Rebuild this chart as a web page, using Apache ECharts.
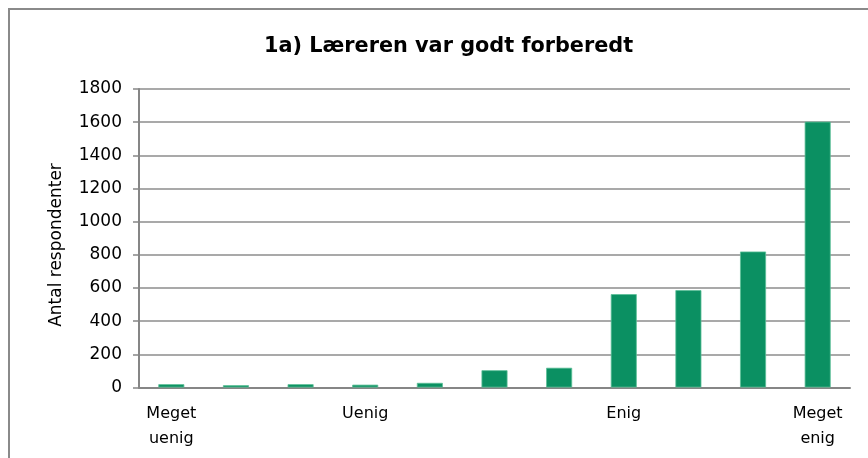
<!DOCTYPE html>
<html>
<head>
<meta charset="utf-8">
<script src="https://cdn.jsdelivr.net/npm/echarts@6/dist/echarts.min.js"></script>
<style>
  html, body { margin: 0; padding: 0; background: #fff; }
  #chart { width: 868px; height: 458px; }
</style>
</head>
<body>
<div id="chart"></div>
<script>
// Response scale positions 1..11 and the number of respondents at each
const categories = ['1', '2', '3', '4', '5', '6', '7', '8', '9', '10', '11'];
const respondents = [20, 14, 20, 17, 28, 104, 119, 563, 587, 820, 1603];
// Anchor labels shown under the scale
const scaleLabels = ['Meget\nuenig', '', '', 'Uenig', '', '', '', 'Enig', '', '', 'Meget\nenig'];
const yTicks = [0, 200, 400, 600, 800, 1000, 1200, 1400, 1600, 1800];

const chart = echarts.init(document.getElementById('chart'), null, { renderer: 'canvas' });
const font = 'DejaVu Sans, Verdana, sans-serif';

chart.setOption({
  animation: false,
  backgroundColor: '#ffffff',
  textStyle: { fontFamily: font },
  title: {
    text: '1a) Læreren var godt forberedt',
    left: 259,
    top: 31,
    textStyle: { fontFamily: font, fontSize: 20.8, fontWeight: 'bold', color: '#000' }
  },
  graphic: [{
    type: 'rect',
    shape: { x: 9, y: 9, width: 900, height: 500 },
    style: { fill: 'none', stroke: '#8a8a8a', lineWidth: 2 },
    silent: true
  }, {
    // y-axis title, sitting slightly below the plot's vertical centre
    type: 'text',
    x: 57,
    y: 245,
    rotation: Math.PI / 2,
    style: {
      text: 'Antal respondenter',
      font: '17px ' + font,
      fill: '#000',
      textAlign: 'center',
      textVerticalAlign: 'middle'
    },
    silent: true
  }],
  grid: { left: 139, right: 18, top: 89, bottom: 70.5, containLabel: false },
  xAxis: {
    type: 'category',
    data: categories,
    axisLine: { lineStyle: { color: '#868686', width: 2 } },
    axisTick: { show: false },
    axisLabel: {
      interval: 0,
      margin: 14,
      color: '#000',
      fontFamily: font,
      fontSize: 16,
      lineHeight: 25,
      formatter: (v, i) => scaleLabels[i]
    }
  },
  yAxis: {
    type: 'value',
    min: yTicks[0],
    max: yTicks[yTicks.length - 1],
    interval: 200,
    axisLine: { show: true, lineStyle: { color: '#868686', width: 2 } },
    axisTick: { show: true, length: 6, lineStyle: { color: '#868686', width: 1.5 } },
    axisLabel: {
      color: '#000', fontFamily: font, fontSize: 17, margin: 17,
      formatter: v => String(v)
    },
    splitLine: { lineStyle: { color: '#8c8c8c', width: 1.5 } }
  },
  series: [{
    type: 'bar',
    data: respondents,
    barWidth: 26,
    itemStyle: { color: '#0b9062', borderColor: '#5cbf97', borderWidth: 0.8 }
  }]
});
</script>
</body>
</html>
